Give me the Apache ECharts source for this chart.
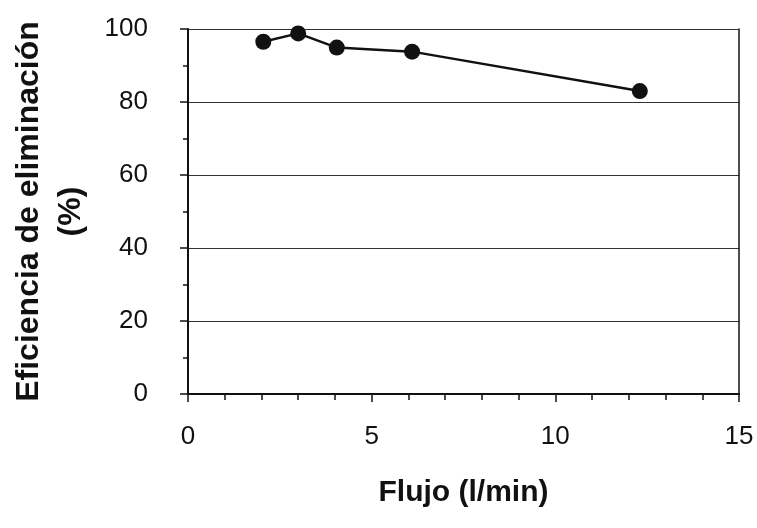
<!DOCTYPE html>
<html>
<head>
<meta charset="utf-8">
<script src="https://cdn.jsdelivr.net/npm/echarts@6/dist/echarts.min.js"></script>
<style>
  html, body { margin: 0; padding: 0; background: #fff; }
  #chart { width: 757px; height: 528px; }
</style>
</head>
<body>
<div id="chart"></div>
<script>
// flow (l/min) and removal efficiency (%)
const flow = [2.05, 3.0, 4.05, 6.1, 12.3]
const efficiency = [96.5, 98.8, 94.9, 93.8, 83.0]
const xTitle = 'Flujo (l/min)'
const yTitle = 'Eficiencia de eliminación\n(%)'

const chart = echarts.init(document.getElementById('chart'))

const labelFont = {
  fontFamily: 'Liberation Sans, Arial, sans-serif',
  fontSize: 26,
  color: '#111'
}

chart.setOption({
  animation: false,
  grid: { left: 188, right: 18, top: 29, bottom: 134, outerBoundsMode: 'none' },
  xAxis: {
    type: 'value',
    min: 0,
    max: 15,
    interval: 5,
    name: xTitle,
    nameLocation: 'middle',
    nameGap: 84,
    nameTextStyle: {
      fontFamily: 'Liberation Sans, Arial, sans-serif',
      fontWeight: 'bold',
      fontSize: 30,
      color: '#111'
    },
    axisLine: { lineStyle: { color: '#111', width: 2 } },
    axisTick: { length: 8, lineStyle: { color: '#111', width: 1.5 } },
    minorTick: { show: true, splitNumber: 5, length: 6, lineStyle: { color: '#111', width: 1.5 } },
    axisLabel: Object.assign({ margin: 30 }, labelFont),
    splitLine: { show: false }
  },
  yAxis: [
    {
      type: 'value',
      min: 0,
      max: 100,
      interval: 20,
      name: yTitle,
      nameLocation: 'middle',
      nameRotate: 90,
      nameGap: 96,
      nameTextStyle: {
        fontFamily: 'Liberation Sans, Arial, sans-serif',
        fontWeight: 'bold',
        fontSize: 32,
        lineHeight: 42,
        color: '#111'
      },
      axisLine: { show: true, lineStyle: { color: '#111', width: 2 } },
      axisTick: { length: 8, lineStyle: { color: '#111', width: 1.5 } },
      minorTick: { show: true, splitNumber: 2, length: 5, lineStyle: { color: '#111', width: 1.5 } },
      axisLabel: Object.assign({ margin: 40 }, labelFont),
      splitLine: { show: true, lineStyle: { color: '#333', width: 1.2 } }
    },
    {
      type: 'value',
      min: 0,
      max: 100,
      position: 'right',
      axisLine: { show: true, lineStyle: { color: '#111', width: 1.5 } },
      axisTick: { show: false },
      axisLabel: { show: false },
      splitLine: { show: false }
    }
  ],
  series: [
    {
      type: 'line',
      data: flow.map((x, i) => [x, efficiency[i]]),
      symbol: 'circle',
      symbolSize: 16,
      itemStyle: { color: '#111' },
      lineStyle: { color: '#111', width: 2.5 }
    }
  ]
})
</script>
</body>
</html>
